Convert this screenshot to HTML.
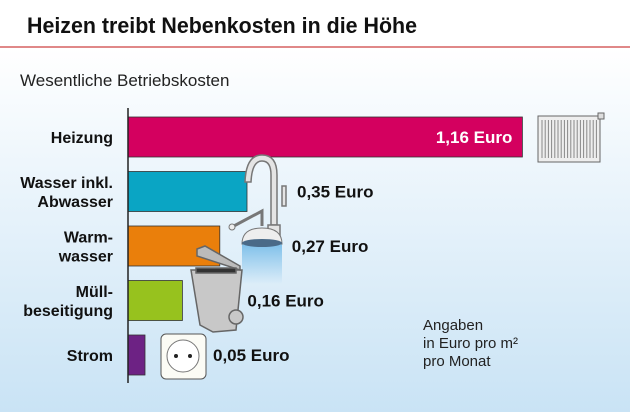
<!DOCTYPE html>
<html><head><meta charset="utf-8"><style>
body{margin:0;width:630px;height:412px;overflow:hidden;font-family:"Liberation Sans",sans-serif;}
#root{position:relative;width:630px;height:412px;background:#fff;}
</style></head><body><div id="root">
<svg width="630" height="412">
<defs>
<linearGradient id="bg" x1="0" y1="0" x2="0" y2="1"><stop offset="0" stop-color="#ffffff"/><stop offset="1" stop-color="#c9e3f5"/></linearGradient>
<linearGradient id="sp" x1="0" y1="0" x2="0" y2="1"><stop offset="0" stop-color="#7fc0ea"/><stop offset="1" stop-color="#7fc0ea" stop-opacity="0"/></linearGradient>
</defs>
<rect x="0" y="48" width="630" height="364" fill="url(#bg)"/>
<text x="27" y="33" font-size="22" font-weight="bold" fill="#111" textLength="390" lengthAdjust="spacingAndGlyphs">Heizen treibt Nebenkosten in die Höhe</text>
<rect x="0" y="46" width="630" height="2" fill="#e08888"/>
<text x="20" y="86" font-size="17" fill="#222">Wesentliche Betriebskosten</text>
<g id="bars"></g>
<line x1="128" y1="108" x2="128" y2="383" stroke="#222" stroke-width="1.5"/>
<g>
<rect x="538" y="116" width="62" height="46" fill="#eee" stroke="#666"/>
<g id="rad"></g>
<rect x="598" y="113" width="6" height="6" fill="#ddd" stroke="#666"/>
</g>
<g fill="#e4e4e4" stroke="#777" stroke-width="1.5">
<path d="M245 182 Q246 155 262 155 Q277 155 277 175 L277 225 L271 225 L271 175 Q271 161 262 161 Q252 161 251 182 Z"/>
<rect x="268" y="225" width="12" height="14"/>
<rect x="282" y="186" width="4" height="20"/>
</g>
<g>
<path d="M232 227 L262 211 L262 226" fill="none" stroke="#777" stroke-width="3"/>
<circle cx="232" cy="227" r="3" fill="#eee" stroke="#777"/>
<rect x="242" y="244" width="40" height="40" fill="url(#sp)"/>
<path d="M242 244 Q242 228 262 228 Q282 228 282 244 Z" fill="#eee" stroke="#777"/>
<ellipse cx="262" cy="243" rx="20" ry="4" fill="#4a6a88"/>
</g>
<g stroke="#666" stroke-width="1.5" fill="#c8c8c8">
<path d="M191 270 L242 270 L236 330 L213 332 L200 325 Z"/>
<path d="M197 249 L205 246 L240 266 L240 270 L197 256 Z" fill="#bbb"/>
<rect x="196" y="268" width="40" height="5" fill="#333"/>
<circle cx="236" cy="317" r="7"/>
</g>
<g>
<rect x="161" y="334" width="45" height="45" rx="5" fill="#fbfbf5" stroke="#555"/>
<circle cx="183" cy="356" r="16" fill="#fff" stroke="#777"/>
<circle cx="176" cy="356" r="2" fill="#222"/><circle cx="190" cy="356" r="2" fill="#222"/>
</g>
<text font-size="15" fill="#222"><tspan x="423" y="330">Angaben</tspan><tspan x="423" y="348">in Euro pro m²</tspan><tspan x="423" y="366">pro Monat</tspan></text>
</svg></div>
<script>
const categories=[["Heizung"],["Wasser inkl.","Abwasser"],["Warm-","wasser"],["Müll-","beseitigung"],["Strom"]];
const values=[1.16,0.35,0.27,0.16,0.05];
const valueLabels=["1,16 Euro","0,35 Euro","0,27 Euro","0,16 Euro","0,05 Euro"];
const colors=["#d4005f","#0aa5c4","#ea7f0b","#97c21e","#6d2284"];
const NS="http://www.w3.org/2000/svg";
const x0=128,scale=340;
function xs(v){return x0+v*scale;}
function yb(i){return 117+i*54.5;}
const extraOffset=[0,50,72,65,68];
const g=document.getElementById('bars');
values.forEach((v,i)=>{
 const r=document.createElementNS(NS,'rect');
 r.setAttribute('x',x0);r.setAttribute('y',yb(i));r.setAttribute('width',xs(v)-x0);r.setAttribute('height',40);
 r.setAttribute('fill',colors[i]);r.setAttribute('stroke','#333');r.setAttribute('stroke-width','0.8');
 
 
 g.appendChild(r);
 const c=categories[i];
 const t=document.createElementNS(NS,'text');
 t.setAttribute('text-anchor','end');t.setAttribute('font-size','16');t.setAttribute('font-weight','bold');t.setAttribute('fill','#111');
 
 
 c.forEach((line,k)=>{const s=document.createElementNS(NS,'tspan');s.setAttribute('x',113);
  s.setAttribute('y',yb(i)+20+6+(k-(c.length-1)/2)*19);s.textContent=line;t.appendChild(s);});
 g.appendChild(t);
 const vl=document.createElementNS(NS,'text');
 vl.setAttribute('font-size','17');vl.setAttribute('font-weight','bold');
 if(i===0){vl.setAttribute('x',xs(v)-10);vl.setAttribute('text-anchor','end');vl.setAttribute('fill','#fff');}
 else{vl.setAttribute('x',xs(v)+extraOffset[i]);vl.setAttribute('fill','#111');}
 vl.setAttribute('y',yb(i)+26);vl.textContent=valueLabels[i];
 
 
 g.appendChild(vl);
});
const rad=document.getElementById('rad');
for(let k=0;k<18;k++){const l=document.createElementNS(NS,'line');l.setAttribute('x1',542+k*3.2);l.setAttribute('x2',542+k*3.2);l.setAttribute('y1',120);l.setAttribute('y2',158);l.setAttribute('stroke','#888');rad.appendChild(l);}
</script></body></html>
